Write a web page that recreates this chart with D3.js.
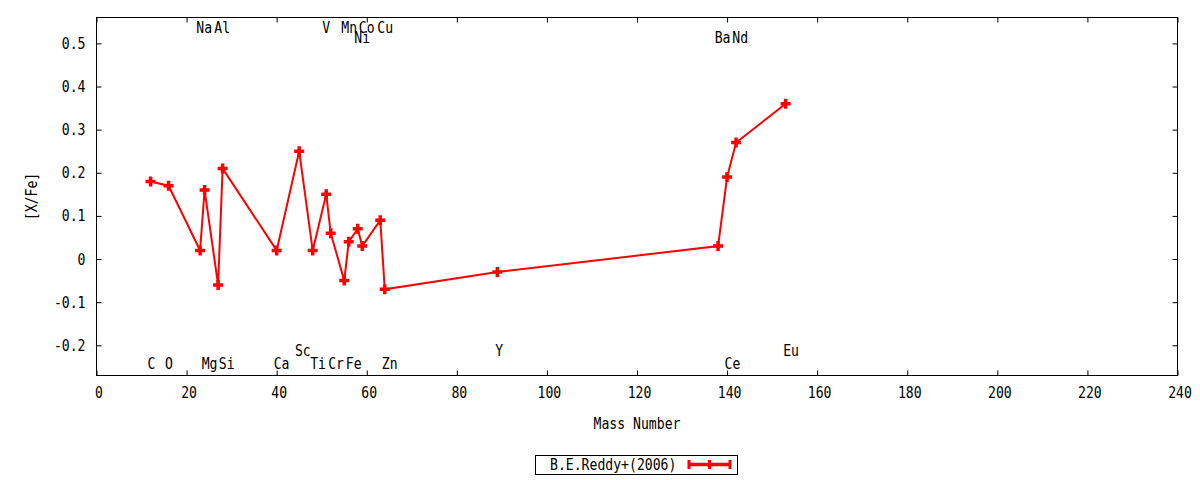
<!DOCTYPE html>
<html>
<head>
<meta charset="utf-8">
<script src="https://cdn.jsdelivr.net/npm/d3@7"></script>
<style>
  html, body { margin: 0; padding: 0; background: #fff; }
  text { font-family: "DejaVu Sans Mono", monospace; font-size: 15.5px; fill: #000; }
</style>
</head>
<body>
<svg id="chart" width="1200" height="480"></svg>
<script>
// ---- data ----
const elements = ["C","O","Na","Mg","Al","Si","Ca","Sc","Ti","V","Cr","Mn","Fe","Ni","Co","Cu","Zn","Y","Ba","Ce","Nd","Eu"];
const massNumbers = [12,16,23,24,27,28,40,45,48,51,52,55,56,58,59,63,64,89,138,140,142,153];
const xFe = [0.18,0.17,0.02,0.16,-0.06,0.21,0.02,0.25,0.02,0.15,0.06,-0.05,0.04,0.07,0.03,0.09,-0.07,-0.03,0.03,0.19,0.27,0.36];

const labelNames = ["Na","Al","V","Mn","Co","Cu","Ni","Ba","Nd","Sc","Y","Eu","C","O","Mg","Si","Ca","Ti","Cr","Fe","Zn","Ce"];
const labelX = [23.9,27.9,51.0,56.1,60.0,64.1,59.0,139.0,142.9,45.8,89.4,154.2,12.2,16.1,25.1,28.9,41.1,49.2,53.2,57.1,65.1,141.2];
const labelY = [0.535,0.535,0.535,0.535,0.535,0.535,0.512,0.512,0.512,-0.213,-0.213,-0.213,-0.244,-0.244,-0.244,-0.244,-0.244,-0.244,-0.244,-0.244,-0.244,-0.244];

const xTicks = [0,20,40,60,80,100,120,140,160,180,200,220,240];
const yTicks = [-0.2,-0.1,0,0.1,0.2,0.3,0.4,0.5];
const yTickLabels = ["-0.2","-0.1","0","0.1","0.2","0.3","0.4","0.5"];
const seriesName = "B.E.Reddy+(2006)";
const xTitle = "Mass Number";
const yTitle = "[X/Fe]";

// ---- layout ----
const L = 96.5, R = 1177.5, T = 17.5, B = 375.5;
const red = "#ff0000";
const CW = 7.9; // character advance of the narrow mono font
const svg = d3.select("#chart");
const narrow = sel => sel.each(function () {
  const t = d3.select(this), s = t.text();
  if (s.length) t.attr("textLength", s.length * CW).attr("lengthAdjust", "spacingAndGlyphs");
});

const x = d3.scaleLinear().domain([0, 240]).range([L, R]);
const y = d3.scaleLinear().domain([-0.27, 0.56]).range([B, T]);

// axes (inward ticks, mirrored)
const gx = svg.append("g").attr("transform", `translate(0,${B})`)
  .call(d3.axisBottom(x).tickValues(xTicks).tickSize(-5).tickPadding(11).tickFormat(d3.format("d")));
const gxt = svg.append("g").attr("transform", `translate(0,${T})`)
  .call(d3.axisTop(x).tickValues(xTicks).tickSize(-5).tickFormat(""));
const gy = svg.append("g").attr("transform", `translate(${L},0)`)
  .call(d3.axisLeft(y).tickValues(yTicks).tickSize(-5).tickPadding(11).tickFormat((d, i) => yTickLabels[i]));
const gyr = svg.append("g").attr("transform", `translate(${R},0)`)
  .call(d3.axisRight(y).tickValues(yTicks).tickSize(-5).tickFormat(""));
[gx, gxt, gy, gyr].forEach(g => {
  g.select(".domain").remove();
  g.selectAll(".tick line").attr("stroke", "#000");
  g.selectAll("text").attr("font-size", null).attr("font-family", null).attr("fill", "#000").call(narrow);
});
gx.selectAll(".tick text").attr("dx", "2");

svg.append("rect").attr("x", L).attr("y", T).attr("width", R - L).attr("height", B - T)
  .attr("fill", "none").attr("stroke", "#000").attr("stroke-width", 1);

// titles
svg.append("text").attr("x", (L + R) / 2).attr("y", 424).attr("text-anchor", "middle")
  .attr("dominant-baseline", "central").text(xTitle).call(narrow);
svg.append("text").attr("transform", `translate(32,${(T + B) / 2}) rotate(-90)`)
  .attr("text-anchor", "middle").attr("dominant-baseline", "central").text(yTitle).call(narrow);

// element labels
svg.append("g").selectAll("text").data(labelNames).join("text")
  .attr("x", (d, i) => x(labelX[i])).attr("y", (d, i) => y(labelY[i]))
  .attr("text-anchor", "middle").attr("dominant-baseline", "central").text(d => d).call(narrow);

// line
const pts = massNumbers.map((m, i) => [m, xFe[i]]);
svg.append("path").datum(pts)
  .attr("fill", "none").attr("stroke", red).attr("stroke-width", 2)
  .attr("d", d3.line().x(d => x(d[0])).y(d => y(d[1])));

// markers (thick plus)
const plus = (cx, cy, s) => `M${cx - s},${cy}H${cx + s}M${cx},${cy - s}V${cy + s}`;
svg.append("g").selectAll("path").data(pts).join("path")
  .attr("d", d => plus(x(d[0]), y(d[1]), 5))
  .attr("stroke", red).attr("stroke-width", 3.5).attr("fill", "none");

// legend
const lg = svg.append("g");
lg.append("rect").attr("x", 535.5).attr("y", 455.5).attr("width", 202).attr("height", 19)
  .attr("fill", "#fff").attr("stroke", "#000");
lg.append("text").attr("x", 550).attr("y", 465).attr("dominant-baseline", "central").text(seriesName).call(narrow);
lg.append("path").attr("d", "M688,464.5H731").attr("stroke", red).attr("stroke-width", 3.5);
lg.append("path").attr("d", "M689,460V469M730,460V469M709.5,460V469").attr("stroke", red).attr("stroke-width", 3);
</script>
</body>
</html>
